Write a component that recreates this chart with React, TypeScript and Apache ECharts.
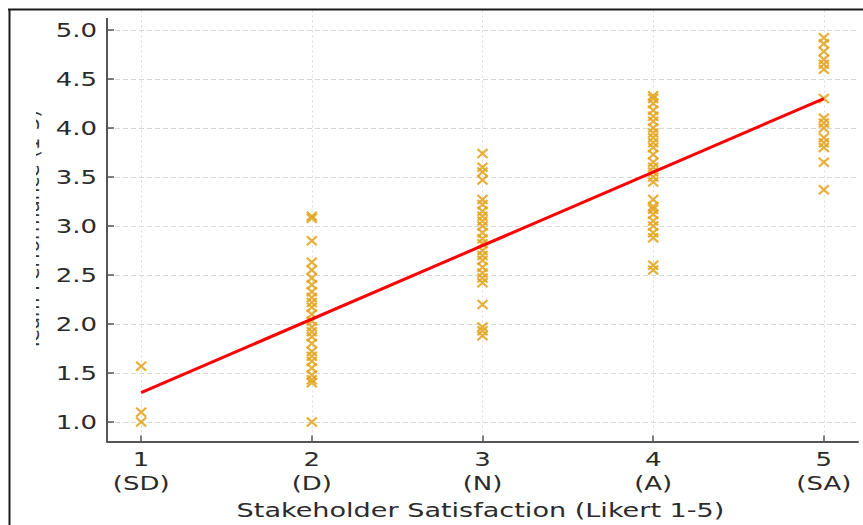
import React, { useEffect, useRef } from "react";
import * as echarts from "echarts";

const xTicks = [1, 2, 3, 4, 5];
const xTickLabels = ["1\n(SD)", "2\n(D)", "3\n(N)", "4\n(A)", "5\n(SA)"];
const yTicks = [1.0, 1.5, 2.0, 2.5, 3.0, 3.5, 4.0, 4.5, 5.0];

const col1 = [1.57, 1.1, 1.0];
const col2 = [3.1, 3.08, 2.85, 2.63, 2.55, 2.47, 2.4, 2.33, 2.27, 2.22, 2.17, 2.1, 2.03, 1.97, 1.92, 1.87, 1.8, 1.72, 1.67, 1.62, 1.55, 1.48, 1.43, 1.4, 1.0];
const col3 = [3.74, 3.6, 3.55, 3.47, 3.27, 3.22, 3.15, 3.1, 3.05, 3.0, 2.93, 2.87, 2.82, 2.75, 2.7, 2.65, 2.58, 2.52, 2.47, 2.42, 2.2, 1.97, 1.93, 1.88];
const col4 = [4.33, 4.3, 4.25, 4.18, 4.12, 4.07, 4.0, 3.95, 3.9, 3.85, 3.8, 3.73, 3.65, 3.6, 3.55, 3.5, 3.45, 3.27, 3.2, 3.17, 3.12, 3.05, 3.0, 2.93, 2.88, 2.6, 2.55];
const col5 = [4.92, 4.86, 4.78, 4.7, 4.65, 4.6, 4.3, 4.1, 4.05, 4.0, 3.9, 3.85, 3.8, 3.65, 3.37];
const columns = [col1, col2, col3, col4, col5];

const fitStart = [1, 1.3];
const fitEnd = [5, 4.3];

const xAxisTitle = "Stakeholder Satisfaction (Likert 1-5)";
const yAxisTitle = "Team Performance (1-5)";

export default function App() {
  const ref = useRef<HTMLDivElement>(null);
  useEffect(() => {
    if (!ref.current) return;
    const chart = echarts.init(ref.current, null, { renderer: "svg" });
    const points: number[][] = [];
    columns.forEach((col, i) => col.forEach((v) => points.push([xTicks[i], v])));
    const font = "DejaVu Sans";
    const stretch = 1.3;
    chart.setOption({
      animation: false,
      backgroundColor: "#ffffff",
      grid: { left: 107, right: 5, top: 10.4, bottom: 83.4, containLabel: false },
      xAxis: {
        type: "value",
        min: 0.8,
        max: 5.2,
        axisLine: { lineStyle: { color: "#555", width: 2 } },
        axisTick: { inside: true, length: 6, customValues: xTicks, lineStyle: { color: "#555", width: 1.5 } },
        axisLabel: { show: false, customValues: xTicks },
        splitLine: { show: true, lineStyle: { color: "#dcdcdc", type: [2, 3], width: 1 } },
      },
      yAxis: {
        type: "value",
        min: 0.8,
        max: 5.2,
        axisLine: { show: false },
        axisTick: { inside: true, length: 7, customValues: yTicks, lineStyle: { color: "#555", width: 1.5 } },
        axisLabel: { show: false, customValues: yTicks },
        splitLine: { show: true, lineStyle: { color: "#d8d8d8", type: [5, 3], width: 1 } },
      },
      series: [
        {
          type: "scatter",
          data: points,
          symbol: "path://M0,0L10,10M10,0L0,10",
          symbolSize: [10, 9],
          itemStyle: { color: "transparent", borderColor: "#E3A21A", borderWidth: 2.2, opacity: 0.85 },
          z: 3,
        },
        {
          type: "line",
          data: [fitStart, fitEnd],
          symbol: "none",
          lineStyle: { color: "#FF0000", width: 3 },
          z: 4,
        },
      ],
    });

    const graphics: any[] = [];
    const grid0 = { xAxisIndex: 0 };
    const gridY = { yAxisIndex: 0 };
    const xAxisY = chart.convertToPixel(gridY, 0.8) as number;
    xTicks.forEach((t, i) => {
      const px = chart.convertToPixel(grid0, t) as number;
      graphics.push({
        type: "text",
        x: px,
        y: xAxisY + 5,
        scaleX: stretch,
        style: { text: xTickLabels[i], fontFamily: font, fontSize: 20, lineHeight: 24, fill: "#2b2b2b", align: "center", verticalAlign: "top" },
        z: 10,
      });
    });
    yTicks.forEach((t) => {
      const py = chart.convertToPixel(gridY, t) as number;
      graphics.push({
        type: "text",
        x: 97,
        y: py,
        scaleX: stretch,
        style: { text: t.toFixed(1), fontFamily: font, fontSize: 20, fill: "#2b2b2b", align: "right", verticalAlign: "middle" },
        z: 10,
      });
    });
    const x0 = chart.convertToPixel(grid0, 0.8) as number;
    const x1 = chart.convertToPixel(grid0, 5.2) as number;
    graphics.push({
      type: "text",
      x: (x0 + x1) / 2 - 2,
      y: 510,
      scaleX: 1.355,
      style: { text: xAxisTitle, fontFamily: font, fontSize: 20, fill: "#2b2b2b", align: "center", verticalAlign: "middle" },
      z: 10,
    });
    graphics.push(
      {
        type: "text",
        x: 42,
        y: 230,
        rotation: Math.PI / 2,
        style: { text: yAxisTitle, fontFamily: font, fontSize: 20, fill: "#333", align: "center", verticalAlign: "bottom" },
        z: 10,
      },
      { type: "rect", shape: { x: 10, y: 11, width: 26, height: 514 }, style: { fill: "#ffffff" }, z: 11 },
      { type: "line", shape: { x1: 107, y1: 18, x2: 107, y2: 442 }, style: { stroke: "#555", lineWidth: 2 }, z: 12 },
      { type: "line", shape: { x1: 8, y1: 9.5, x2: 863, y2: 9.5 }, style: { stroke: "#1a1a1a", lineWidth: 2 }, z: 20 },
      { type: "line", shape: { x1: 9.5, y1: 9, x2: 9.5, y2: 525 }, style: { stroke: "#1a1a1a", lineWidth: 2 }, z: 20 }
    );
    chart.setOption({ graphic: graphics });
    return () => chart.dispose();
  }, []);
  return <div ref={ref} style={{ position: "absolute", left: 0, top: 0, width: 863, height: 525 }} />;
}
